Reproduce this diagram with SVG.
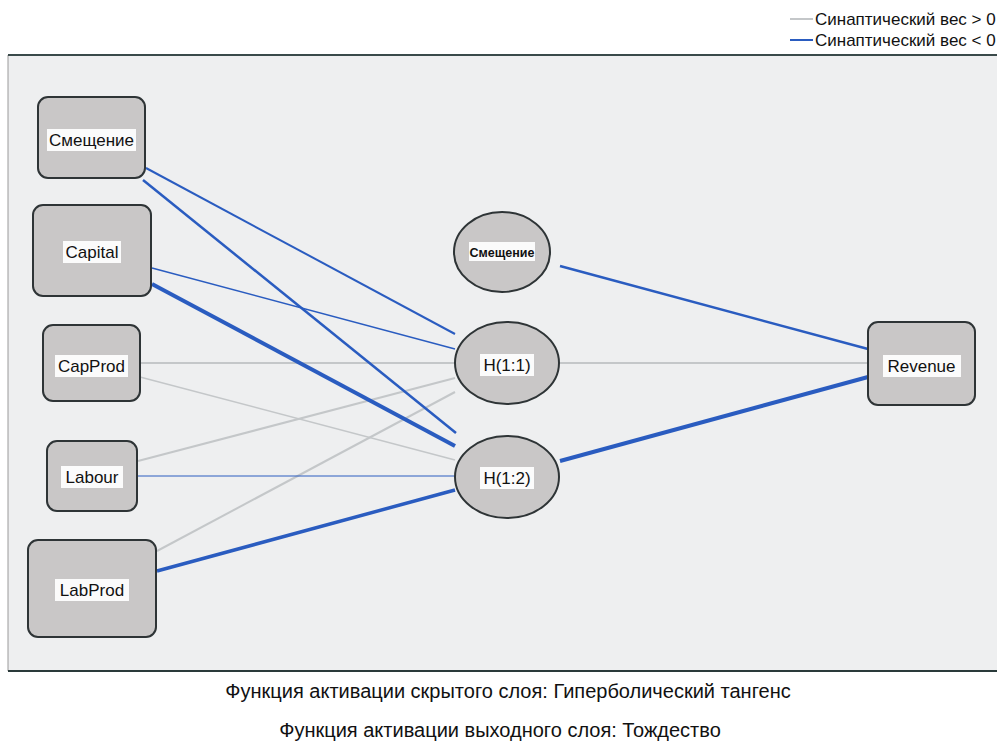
<svg xmlns="http://www.w3.org/2000/svg" width="997" height="744" viewBox="0 0 997 744">
<style>
.node{fill:#c9c7c7;stroke:#2e3436;stroke-width:2}
.lab{font-family:"Liberation Sans",Arial,sans-serif;font-size:17px;fill:#111;text-anchor:middle}
.lb{fill:#fbfbfb}
.pos{stroke:#c4c7c9;fill:none}
.neg{stroke:#2a5cc0;fill:none}
.foot{font-family:"Liberation Sans",Arial,sans-serif;font-size:20px;fill:#111;text-anchor:middle}
.leg{font-family:"Liberation Sans",Arial,sans-serif;font-size:17px;fill:#111}
</style>
<rect width="997" height="744" fill="#ffffff"/>
<rect x="8" y="55" width="989" height="616" fill="#eeeff0"/>
<line x1="8" y1="55" x2="8" y2="671" stroke="#9a9a9a" stroke-width="1"/>
<line x1="8" y1="55" x2="997" y2="55" stroke="#3a4a4a" stroke-width="2"/>
<line x1="8" y1="671" x2="997" y2="671" stroke="#2a3a3a" stroke-width="2"/>
<g id="legend">
<line x1="790" y1="19" x2="813" y2="19" class="pos" stroke-width="2"/>
<text x="815" y="25" class="leg">Синаптический вес &gt; 0</text>
<line x1="790" y1="40" x2="813" y2="40" class="neg" stroke-width="2"/>
<text x="815" y="46" class="leg">Синаптический вес &lt; 0</text>
</g>
<g id="connectors">
<line x1="140" y1="363" x2="455" y2="363" class="pos" stroke-width="2"/>
<line x1="140" y1="377" x2="455" y2="460" class="pos" stroke-width="1.5"/>
<line x1="138" y1="461" x2="455" y2="378" class="pos" stroke-width="2"/>
<line x1="157" y1="551" x2="455" y2="392" class="pos" stroke-width="2"/>
<line x1="560" y1="363" x2="868" y2="363" class="pos" stroke-width="2"/>
<line x1="146" y1="168" x2="455" y2="334" class="neg" stroke-width="2"/>
<line x1="143" y1="180" x2="456" y2="433" class="neg" stroke-width="2.5"/>
<line x1="152" y1="268" x2="455" y2="349" class="neg" stroke-width="1.5"/>
<line x1="152" y1="284" x2="455" y2="446" class="neg" stroke-width="4"/>
<line x1="138" y1="476" x2="455" y2="476" class="neg" stroke-width="1"/>
<line x1="157" y1="571" x2="455" y2="490" class="neg" stroke-width="3.5"/>
<line x1="560" y1="266" x2="868" y2="349" class="neg" stroke-width="2.5"/>
<line x1="560" y1="461" x2="868" y2="377" class="neg" stroke-width="4"/>
</g>
<g id="in_bias">
<rect x="38" y="97" width="107" height="81" rx="10" class="node"/>
<rect x="47" y="129" width="89" height="22" class="lb"/>
<text x="91.5" y="146" class="lab">Смещение</text>
</g>
<g id="in_capital">
<rect x="33" y="205" width="118" height="91" rx="10" class="node"/>
<rect x="63" y="241" width="58" height="22" class="lb"/>
<text x="92" y="258" class="lab">Capital</text>
</g>
<g id="in_capprod">
<rect x="43" y="325" width="97" height="76" rx="10" class="node"/>
<rect x="55" y="355" width="73" height="22" class="lb"/>
<text x="91.5" y="372" class="lab">CapProd</text>
</g>
<g id="in_labour">
<rect x="47" y="441" width="90" height="70" rx="10" class="node"/>
<rect x="61" y="466" width="62" height="22" class="lb"/>
<text x="92" y="483" class="lab">Labour</text>
</g>
<g id="in_labprod">
<rect x="28" y="540" width="128" height="97" rx="10" class="node"/>
<rect x="55" y="579" width="74" height="22" class="lb"/>
<text x="92" y="596" class="lab">LabProd</text>
</g>
<g id="h_bias">
<ellipse cx="502" cy="252" rx="48" ry="40" class="node"/>
<rect x="469" y="242" width="66" height="19" class="lb"/>
<text x="502" y="257" class="lab" style="font-size:12.5px;font-weight:bold">Смещение</text>
</g>
<g id="h11">
<ellipse cx="507" cy="363" rx="52" ry="41" class="node"/>
<rect x="480" y="354" width="54" height="22" class="lb"/>
<text x="507" y="371" class="lab">H(1:1)</text>
</g>
<g id="h12">
<ellipse cx="507" cy="477" rx="52" ry="41" class="node"/>
<rect x="480" y="467" width="54" height="22" class="lb"/>
<text x="507" y="484" class="lab">H(1:2)</text>
</g>
<g id="out_revenue">
<rect x="868" y="322" width="107" height="83" rx="10" class="node"/>
<rect x="883" y="355" width="78" height="22" class="lb"/>
<text x="921.5" y="372" class="lab">Revenue</text>
</g>
<text x="508" y="698" class="foot">Функция активации скрытого слоя: Гиперболический тангенс</text>
<text x="500" y="737" class="foot">Функция активации выходного слоя: Тождество</text>
</svg>
